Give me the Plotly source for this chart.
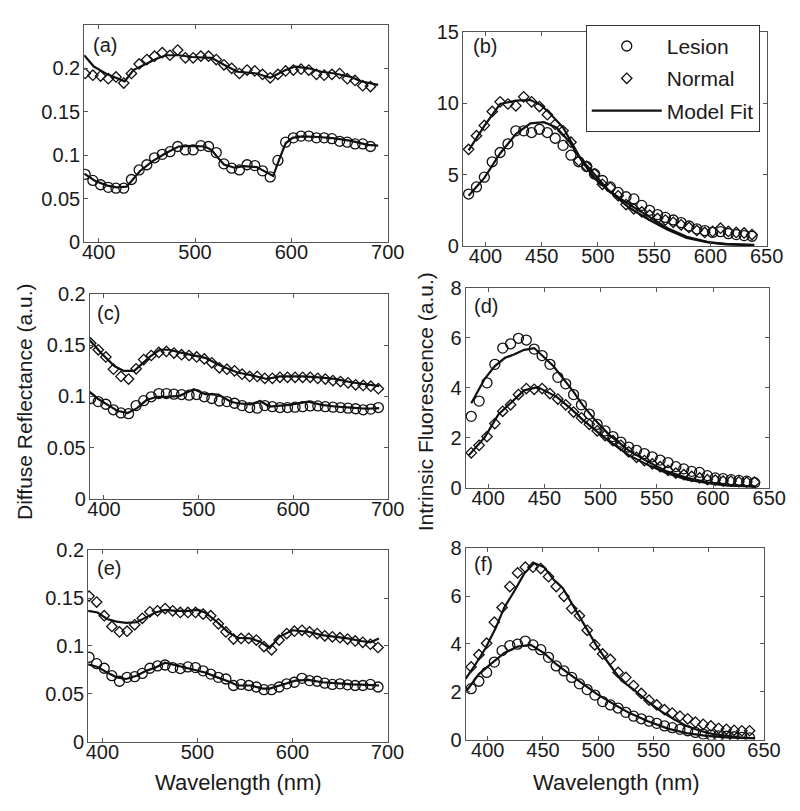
import plotly.graph_objects as go

# ---------------- data ----------------
# Diffuse reflectance panels (a), (c), (e): marker wavelengths
wl_a = [386, 394, 402, 410, 418, 426, 434, 442, 450, 458, 466, 474, 482, 490, 498, 506, 514, 522, 530,
        538, 546, 554, 562, 570, 578, 586, 594, 602, 610, 618, 626, 634, 642, 650, 658, 666, 674, 682]
wl_ce = [386, 394, 402, 410, 418, 426, 434, 442, 450, 458, 466, 474, 482, 490, 498, 506, 514, 522, 530,
         538, 546, 554, 562, 570, 578, 586, 594, 602, 610, 618, 626, 634, 642, 650, 658, 666, 674, 682, 690]
# Fluorescence panels (b), (d), (f): marker wavelengths
wl_f = [385, 392, 399, 406, 413, 420, 427, 434, 441, 448, 455, 462, 469, 476, 483, 490, 497, 504, 511,
        518, 525, 532, 539, 546, 553, 560, 567, 574, 581, 588, 595, 602, 609, 616, 623, 630, 637]

# (a)
a_lesion = [0.078, 0.071, 0.066, 0.063, 0.062, 0.062, 0.072, 0.083, 0.089, 0.097, 0.101, 0.104, 0.110, 0.106,
            0.106, 0.111, 0.110, 0.103, 0.090, 0.085, 0.083, 0.089, 0.088, 0.082, 0.075, 0.094, 0.115, 0.120,
            0.122, 0.122, 0.120, 0.120, 0.119, 0.116, 0.115, 0.113, 0.113, 0.110]
a_normal = [0.194, 0.192, 0.191, 0.188, 0.190, 0.183, 0.194, 0.205, 0.210, 0.214, 0.218, 0.215, 0.221, 0.212,
            0.212, 0.214, 0.214, 0.210, 0.204, 0.200, 0.194, 0.198, 0.197, 0.193, 0.189, 0.193, 0.197, 0.198,
            0.199, 0.198, 0.193, 0.192, 0.193, 0.194, 0.188, 0.186, 0.180, 0.179]
a_fit_lesion_wl = [385, 396, 409, 419, 429, 434, 443, 456, 470, 483, 497, 510, 517, 524, 530, 541, 551, 564,
                   578, 581, 588, 594, 601, 611, 628, 645, 662, 679, 690]
a_fit_lesion = [0.0788, 0.0706, 0.065, 0.063, 0.0638, 0.0706, 0.0818, 0.0931, 0.1025, 0.110, 0.1107, 0.110,
                0.1062, 0.0968, 0.0893, 0.0856, 0.0875, 0.0863, 0.078, 0.076, 0.0968, 0.1137, 0.120, 0.1216,
                0.1209, 0.1194, 0.1164, 0.1119, 0.111]
a_fit_normal_wl = [385, 395, 409, 419, 427, 436, 450, 460, 470, 483, 497, 517, 530, 544, 564, 578, 594, 604,
                   618, 631, 645, 662, 672, 690]
a_fit_normal = [0.215, 0.202, 0.193, 0.189, 0.185, 0.198, 0.206, 0.211, 0.215, 0.215, 0.213, 0.212, 0.204,
                0.196, 0.194, 0.189, 0.198, 0.202, 0.200, 0.196, 0.194, 0.190, 0.185, 0.181]

# (b)
b_lesion = [3.64, 4.14, 4.82, 5.9, 6.55, 7.16, 8.07, 8.07, 7.95, 8.18, 7.95, 7.55, 7.05, 6.36, 5.9, 5.57,
            5.05, 4.59, 4.14, 3.75, 3.45, 3.3, 2.84, 2.5, 2.2, 2.0, 1.82, 1.64, 1.4, 1.2, 1.08, 0.95, 1.0,
            0.86, 0.8, 0.73, 0.68]
b_normal = [6.77, 7.73, 8.45, 9.43, 10.1, 9.95, 9.82, 10.45, 10.1, 9.77, 9.2, 8.52, 8.07, 7.27, 5.98, 5.57,
            5.05, 4.32, 4.09, 3.52, 2.9, 2.6, 2.39, 2.16, 1.93, 1.82, 1.66, 1.48, 1.3, 1.09, 0.95, 1.02,
            1.25, 1.02, 0.95, 0.91, 0.8]
b_fit_lesion_wl = [385, 399, 413, 427, 440, 452, 463, 475, 482, 498, 510, 527, 545, 562, 579, 600, 614, 639]
b_fit_lesion = [3.52, 4.77, 6.48, 7.84, 8.59, 8.68, 8.30, 7.27, 6.36, 4.89, 3.86, 2.95, 2.05, 1.25, 0.64,
                0.23, 0.11, 0.05]
b_fit_normal_wl = [385, 399, 413, 427, 440, 449, 457, 469, 478, 486, 498, 513, 527, 545, 562, 579, 597, 614,
                   639]
b_fit_normal = [6.7, 8.41, 9.95, 10.18, 10.23, 9.89, 9.32, 8.3, 7.05, 5.91, 4.66, 3.64, 2.73, 1.86, 1.14,
                0.57, 0.27, 0.14, 0.07]

# (c)
c_lesion = [0.098, 0.095, 0.0924, 0.087, 0.0839, 0.0832, 0.0911, 0.0959, 0.0997, 0.1028, 0.1028, 0.1022,
            0.1019, 0.1013, 0.1019, 0.0997, 0.098, 0.0956, 0.095, 0.0934, 0.0911, 0.0892, 0.0886, 0.0911,
            0.090, 0.0892, 0.0892, 0.0896, 0.090, 0.0908, 0.0908, 0.090, 0.0896, 0.0892, 0.0886, 0.088,
            0.087, 0.0877, 0.0892]
c_normal = [0.152, 0.1456, 0.1386, 0.1266, 0.1196, 0.117, 0.127, 0.136, 0.140, 0.143, 0.144, 0.1424, 0.1408,
            0.140, 0.1386, 0.1367, 0.1329, 0.128, 0.1266, 0.125, 0.1218, 0.1196, 0.1196, 0.1177, 0.1177,
            0.1187, 0.1187, 0.1187, 0.1187, 0.1187, 0.1177, 0.117, 0.1155, 0.1146, 0.1133, 0.1114, 0.1108,
            0.110, 0.1076]
c_fit_lesion_wl = [385, 394, 404, 414, 425, 435, 445, 456, 466, 480, 495, 507, 521, 534, 541, 555, 565, 575,
                   596, 616, 630, 644, 661, 678, 691]
c_fit_lesion = [0.1044, 0.0975, 0.0918, 0.0861, 0.0839, 0.0886, 0.0965, 0.0997, 0.0997, 0.1006, 0.107,
                0.1022, 0.1019, 0.0949, 0.0934, 0.0924, 0.0956, 0.0902, 0.0918, 0.0949, 0.0918, 0.0902,
                0.0892, 0.088, 0.0886]
c_fit_normal_wl = [385, 397, 411, 421, 432, 438, 449, 459, 469, 480, 493, 507, 524, 541, 558, 572, 586, 610,
                   627, 644, 661, 678, 691]
c_fit_normal = [0.155, 0.1424, 0.1297, 0.125, 0.125, 0.1297, 0.1392, 0.1456, 0.1456, 0.143, 0.1408, 0.1377,
                0.1297, 0.1234, 0.1203, 0.1171, 0.1196, 0.1196, 0.1187, 0.1171, 0.1139, 0.1114, 0.1101]

# (d)
d_lesion = [2.85, 3.46, 4.19, 4.93, 5.58, 5.75, 5.97, 5.9, 5.54, 5.28, 4.93, 4.41, 4.15, 3.72, 3.31, 2.94,
            2.53, 2.27, 2.04, 1.82, 1.62, 1.49, 1.36, 1.23, 1.1, 1.0, 0.84, 0.75, 0.65, 0.61, 0.48, 0.39,
            0.36, 0.32, 0.29, 0.26, 0.2]
d_normal = [1.39, 1.69, 2.04, 2.56, 3.05, 3.31, 3.72, 3.96, 3.93, 3.96, 3.76, 3.54, 3.31, 3.02, 2.79, 2.53,
            2.27, 2.08, 1.88, 1.69, 1.43, 1.21, 1.08, 0.95, 0.84, 0.69, 0.58, 0.52, 0.45, 0.39, 0.32, 0.30,
            0.26, 0.26, 0.23, 0.22, 0.22]
d_fit_lesion_wl = [385, 397, 406, 415, 423, 432, 441, 449, 458, 467, 476, 484, 496, 507, 525, 542, 559, 577,
                   597, 612, 638]
d_fit_lesion = [3.37, 4.35, 4.86, 5.19, 5.32, 5.51, 5.58, 5.25, 4.86, 4.35, 3.83, 3.31, 2.66, 2.14, 1.49,
                1.04, 0.65, 0.39, 0.19, 0.10, 0.04]
d_fit_normal_wl = [383, 397, 409, 421, 432, 444, 452, 461, 473, 484, 496, 507, 525, 542, 559, 577, 597, 612,
                   638]
d_fit_normal = [1.3, 2.01, 2.92, 3.44, 3.89, 4.02, 3.83, 3.63, 3.18, 2.72, 2.27, 1.88, 1.3, 0.91, 0.58, 0.32,
                0.17, 0.09, 0.04]

# (e)
e_lesion = [0.0881, 0.0814, 0.0766, 0.0688, 0.063, 0.0671, 0.0678, 0.0712, 0.0766, 0.079, 0.080, 0.0773,
            0.0763, 0.078, 0.0773, 0.0739, 0.0705, 0.0671, 0.0654, 0.0586, 0.0597, 0.0586, 0.057, 0.0542,
            0.0542, 0.057, 0.0603, 0.062, 0.0661, 0.0637, 0.063, 0.061, 0.0597, 0.0603, 0.0593, 0.0586,
            0.0586, 0.0597, 0.057]
e_normal = [0.152, 0.1458, 0.1315, 0.1203, 0.1146, 0.1153, 0.122, 0.1288, 0.1356, 0.1366, 0.139, 0.1366,
            0.1349, 0.1349, 0.1349, 0.1332, 0.1315, 0.123, 0.1146, 0.1071, 0.1078, 0.1078, 0.1061, 0.0993,
            0.0959, 0.1061, 0.1129, 0.1153, 0.1163, 0.1146, 0.1129, 0.1105, 0.1095, 0.1085, 0.1071, 0.1051,
            0.1037, 0.1017, 0.0983]
e_fit_lesion_wl = [385, 395, 405, 415, 425, 436, 446, 456, 466, 480, 494, 508, 521, 535, 542, 556, 569, 576,
                   590, 603, 617, 631, 645, 662, 679, 691]
e_fit_lesion = [0.0807, 0.078, 0.0722, 0.0671, 0.0654, 0.0688, 0.0739, 0.0773, 0.0824, 0.079, 0.0756,
                0.0722, 0.0671, 0.062, 0.0586, 0.0586, 0.0553, 0.0553, 0.0597, 0.0637, 0.0644, 0.062, 0.061,
                0.0597, 0.0593, 0.0586]
e_fit_normal_wl = [385, 395, 405, 415, 425, 436, 446, 456, 466, 477, 490, 501, 508, 521, 532, 542, 556, 566,
                   576, 586, 600, 617, 631, 645, 658, 672, 682, 691]
e_fit_normal = [0.1366, 0.1349, 0.1281, 0.1254, 0.1241, 0.1247, 0.1298, 0.1349, 0.1376, 0.1366, 0.1366,
                0.1376, 0.1349, 0.1247, 0.1146, 0.1085, 0.1078, 0.1044, 0.0976, 0.1095, 0.1163, 0.1146,
                0.1112, 0.1095, 0.1078, 0.1051, 0.1037, 0.1078]

# (f)
f_lesion = [2.13, 2.44, 2.81, 3.24, 3.72, 3.93, 3.99, 4.12, 3.96, 3.76, 3.44, 3.08, 2.87, 2.6, 2.33, 2.09,
            1.86, 1.59, 1.45, 1.32, 1.14, 0.98, 0.87, 0.77, 0.68, 0.57, 0.5, 0.43, 0.37, 0.3, 0.23, 0.19,
            0.16, 0.14, 0.12, 0.09, 0.07]
f_normal = [3.04, 3.55, 4.03, 4.91, 5.52, 6.4, 6.97, 7.21, 7.21, 7.15, 6.81, 6.4, 5.99, 5.48, 5.18, 4.57,
            3.96, 3.58, 3.35, 2.81, 2.6, 2.26, 1.93, 1.65, 1.45, 1.25, 1.11, 0.98, 0.87, 0.73, 0.64, 0.57,
            0.47, 0.43, 0.39, 0.37, 0.37]
f_fit_lesion_wl = [380, 392, 404, 415, 427, 439, 451, 462, 474, 486, 498, 510, 527, 545, 563, 580, 598, 616,
                   641]
f_fit_lesion = [1.99, 2.74, 3.21, 3.62, 3.89, 3.96, 3.62, 3.15, 2.74, 2.33, 1.93, 1.59, 1.14, 0.77, 0.46,
                0.27, 0.16, 0.09, 0.05]
f_fit_normal_wl = [380, 389, 398, 407, 415, 424, 433, 442, 451, 460, 468, 477, 486, 498, 510, 521, 533, 545,
                   557, 569, 580, 592, 604, 616, 627, 641]
f_fit_normal = [2.54, 3.15, 3.82, 4.64, 5.52, 6.2, 6.94, 7.38, 7.21, 6.67, 6.33, 5.59, 4.91, 3.96, 3.15,
                2.47, 2.06, 1.59, 1.18, 0.84, 0.57, 0.37, 0.23, 0.16, 0.09, 0.05]

refl_ticks = [0, 0.05, 0.1, 0.15, 0.2]
refl_ticktext = ["0", "0.05", "0.1", "0.15", "0.2"]
refl_xticks = [400, 500, 600, 700]
fluo_xticks = [400, 450, 500, 550, 600, 650]

# ---------------- layout helpers ----------------
W, H = 800, 811
FONT = "Liberation Sans, Arial, sans-serif"
AXC = "#555555"
TXT = "#1a1a1a"

# pixel boxes: x0, x1, y0(top), y1(bottom)
boxes = {
    "a": (76, 387, 6, 229.3),
    "b": (464, 775, 13.3, 233.3),
    "c": (81.7, 387, 282.7, 493.3),
    "d": (466.7, 777.7, 276, 481.7),
    "e": (80, 386.7, 546, 742.7),
    "f": (466.7, 772.3, 544, 740.7),
}

fig = go.Figure()

panels = [
    ("a", 1, wl_a, a_lesion, a_normal, a_fit_lesion_wl, a_fit_lesion, a_fit_normal_wl, a_fit_normal),
    ("b", 2, wl_f, b_lesion, b_normal, b_fit_lesion_wl, b_fit_lesion, b_fit_normal_wl, b_fit_normal),
    ("c", 3, wl_ce, c_lesion, c_normal, c_fit_lesion_wl, c_fit_lesion, c_fit_normal_wl, c_fit_normal),
    ("d", 4, wl_f, d_lesion, d_normal, d_fit_lesion_wl, d_fit_lesion, d_fit_normal_wl, d_fit_normal),
    ("e", 5, wl_ce, e_lesion, e_normal, e_fit_lesion_wl, e_fit_lesion, e_fit_normal_wl, e_fit_normal),
    ("f", 6, wl_f, f_lesion, f_normal, f_fit_lesion_wl, f_fit_lesion, f_fit_normal_wl, f_fit_normal),
]

line_style = dict(color="#111111", width=2.2)
circ = dict(symbol="circle-open", size=10, color="#111111", line=dict(width=1.3, color="#111111"))
diam = dict(symbol="diamond-open", size=8, color="#111111", line=dict(width=1.3, color="#111111"))

for key, n, wl, les, nor, flw, fl, fnw, fn in panels:
    xa = "x" if n == 1 else f"x{n}"
    ya = "y" if n == 1 else f"y{n}"
    show = key == "b"
    fig.add_trace(go.Scatter(x=flw, y=fl, mode="lines", line=line_style, xaxis=xa, yaxis=ya,
                             name="Model Fit", showlegend=show, legendgroup="g3", legendrank=3))
    fig.add_trace(go.Scatter(x=fnw, y=fn, mode="lines", line=line_style, xaxis=xa, yaxis=ya,
                             name="Model Fit", showlegend=False))
    fig.add_trace(go.Scatter(x=wl, y=les, mode="markers", marker=circ, xaxis=xa, yaxis=ya,
                             name="Lesion", showlegend=show, legendgroup="g1", legendrank=1))
    fig.add_trace(go.Scatter(x=wl, y=nor, mode="markers", marker=diam, xaxis=xa, yaxis=ya,
                             name="Normal", showlegend=show, legendgroup="g2", legendrank=2))

layout = dict(
    width=W, height=H, margin=dict(l=0, r=0, t=0, b=0),
    paper_bgcolor="white", plot_bgcolor="white",
    font=dict(family=FONT, size=20, color=TXT),
    showlegend=True,
    legend=dict(x=768 / W, xanchor="right", y=1 - 6 / H, yanchor="top",
                bgcolor="white", bordercolor="#333333", borderwidth=1,
                font=dict(family=FONT, size=21, color=TXT),
                traceorder="grouped", tracegroupgap=2, itemwidth=70),
)

for key, n, *_ in panels:
    x0, x1, y0, y1 = boxes[key]
    refl = key in ("a", "c", "e")
    xname = "xaxis" if n == 1 else f"xaxis{n}"
    yname = "yaxis" if n == 1 else f"yaxis{n}"
    ya = "y" if n == 1 else f"y{n}"
    xa = "x" if n == 1 else f"x{n}"
    common = dict(showline=True, linecolor=AXC, linewidth=1, mirror="allticks", ticks="inside",
                  ticklen=4, tickcolor=AXC, showgrid=False, zeroline=False,
                  tickfont=dict(family=FONT, size=20, color=TXT))
    if refl:
        xr = [385, 700]
        xt = refl_xticks
        yr = [0, 0.25] if key == "a" else [0, 0.2]
        yt = refl_ticks
        ytt = refl_ticktext
    else:
        xr = [380, 650]
        xt = fluo_xticks
        if key == "b":
            yr = [0, 15]
            yt = [0, 5, 10, 15]
        else:
            yr = [0, 8]
            yt = [0, 2, 4, 6, 8]
        ytt = [str(v) for v in yt]
    layout[xname] = dict(domain=[x0 / W, x1 / W], range=xr, tickvals=xt,
                         ticktext=[str(v) for v in xt], anchor=ya, ticklabelstandoff=-8, **common)
    layout[yname] = dict(domain=[1 - y1 / H, 1 - y0 / H], range=yr, tickvals=yt,
                         ticktext=ytt, anchor=xa, ticklabelstandoff=-1, **common)

fig.update_layout(**layout)

# panel labels
labels = {"a": (83, 26.5), "b": (472, 28), "c": (87, 302), "d": (473, 295), "e": (87, 564), "f": (473, 560)}
for k, (px, py) in labels.items():
    fig.add_annotation(x=px / W, y=1 - py / H, xref="paper", yref="paper", text=f"({k})",
                       showarrow=False, xanchor="left", yanchor="middle",
                       font=dict(family=FONT, size=20, color=TXT))

# axis titles
fig.add_annotation(x=15 / W, y=1 - 393 / H, xref="paper", yref="paper", text="Diffuse Reflectance (a.u.)",
                   textangle=-90, showarrow=False, xanchor="center", yanchor="middle",
                   font=dict(family=FONT, size=21, color=TXT))
fig.add_annotation(x=425 / W, y=1 - 393 / H, xref="paper", yref="paper", text="Intrinsic Fluorescence (a.u.)",
                   textangle=-90, showarrow=False, xanchor="center", yanchor="middle",
                   font=dict(family=FONT, size=21, color=TXT))
fig.add_annotation(x=234 / W, y=1 - 785 / H, xref="paper", yref="paper", text="Wavelength (nm)",
                   showarrow=False, xanchor="center", yanchor="middle",
                   font=dict(family=FONT, size=22, color=TXT))
fig.add_annotation(x=621 / W, y=1 - 785 / H, xref="paper", yref="paper", text="Wavelength (nm)",
                   showarrow=False, xanchor="center", yanchor="middle",
                   font=dict(family=FONT, size=22, color=TXT))

fig.write_html("out.html")
